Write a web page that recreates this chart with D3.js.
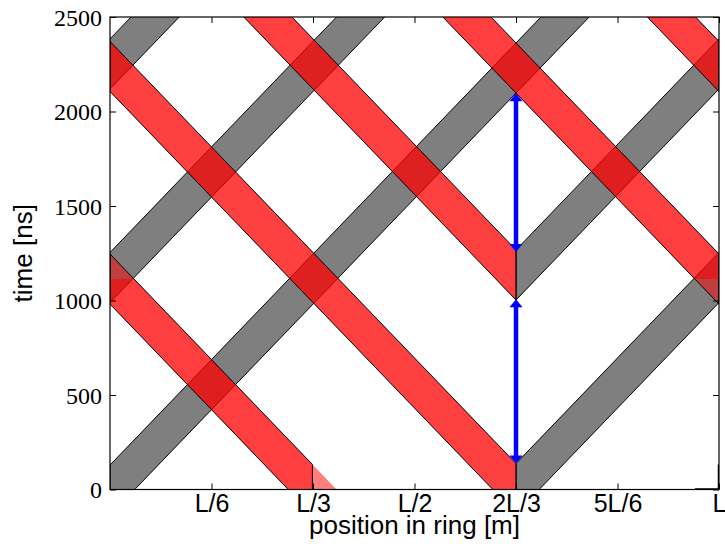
<!DOCTYPE html>
<html>
<head>
<meta charset="utf-8">
<script src="https://cdn.jsdelivr.net/npm/d3@7/dist/d3.min.js"></script>
<style>
body { margin: 0; background: #fff; }
</style>
</head>
<body>
<svg id="chart" width="725" height="546"></svg>
<script>
// one lap of the ring takes this many ns
var nsPerRing = 3350;
var pulseLength = 265;               // ns, thickness of a band measured along time
var kickerPos = 2 / 3;               // pulses leave the kicker at 2L/3
var kickTimes = [-1120, 5, 1135];    // ns, centre of each pulse at the kicker (first one is already running at t=0)
var laps = 3;

var xTicks = [1 / 6, 1 / 3, 1 / 2, 2 / 3, 5 / 6, 1];
var xTickLabels = ["L/6", "L/3", "L/2", "2L/3", "5L/6", "L"];
var yTicks = [0, 500, 1000, 1500, 2000, 2500];
var arrowSpans = [[138, 1007], [1256, 2097]];   // ns, blue arrows at 2L/3

var margin = {left: 110, top: 17, right: 6, bottom: 56.5};
var W = 725 - margin.left - margin.right;
var H = 546 - margin.top - margin.bottom;

var x = d3.scaleLinear().domain([0, 1]).range([0, W]);
var y = d3.scaleLinear().domain([0, 2500]).range([H, 0]);

var svg = d3.select("#chart");
var g = svg.append("g").attr("transform", "translate(" + margin.left + "," + margin.top + ")");

g.append("clipPath").attr("id", "plot-clip")
    .append("rect").attr("width", W).attr("height", H);

var plot = g.append("g").attr("clip-path", "url(#plot-clip)");

var half = pulseLength / 2;
var hw = half / nsPerRing;           // half width of a band along x (in L)

// centre time of a pulse at unwrapped position u
var centre = function (dir, t0, u) {
    return t0 + dir * (u - kickerPos) * nsPerRing;
};
// centre position of a pulse at time t
var centrePos = function (dir, t0, t) {
    return kickerPos + dir * (t - t0) / nsPerRing;
};

// lap segment between unwrapped positions ua and ub (vertical ends)
var segment = function (dir, t0, ua, ub, shift) {
    var ta = centre(dir, t0, ua), tb = centre(dir, t0, ub);
    return [
        [ua + shift, ta - half],
        [ub + shift, tb - half],
        [ub + shift, tb + half],
        [ua + shift, ta + half]
    ];
};
// piece of a band between two times (horizontal ends)
var slice = function (dir, t0, ta, tb, shift) {
    var ua = centrePos(dir, t0, ta), ub = centrePos(dir, t0, tb);
    return [
        [ua - hw + shift, ta],
        [ua + hw + shift, ta],
        [ub + hw + shift, tb],
        [ub - hw + shift, tb]
    ];
};

var toPath = function (pts) {
    return "M" + pts.map(function (p) { return x(p[0]) + "," + y(p[1]); }).join("L") + "Z";
};

var grays = [], reds = [], redHalves = [], redSlices = [];
kickTimes.forEach(function (t0, i) {
    var n, m;
    // grey: 2L/3 -> L, then full laps
    if (i > 0) grays.push(segment(1, t0, kickerPos, 1, 0));
    for (n = 1; n <= laps; n++) grays.push(segment(1, t0, n, n + 1, -n));

    if (i > 0) {
        // red: 2L/3 -> 0, then full laps
        reds.push(segment(-1, t0, kickerPos, 0, 0));
        for (m = 0; m < laps; m++) reds.push(segment(-1, t0, -m, -m - 1, m + 1));
    } else {
        // pulse already on its way at t=0: drawn as two half-transparent layers
        var u0 = centrePos(-1, t0, 0);
        redHalves.push(segment(-1, t0, u0, 0, 0));
        for (m = 0; m < laps; m++) redHalves.push(segment(-1, t0, -m, -m - 1, m + 1));
        var tWrap = centre(-1, t0, 0);
        redSlices.push(slice(-1, t0, 0, tWrap, 0));
        for (m = 1; m <= laps; m++) {
            redSlices.push(slice(-1, t0, tWrap + (m - 1) * nsPerRing, tWrap + m * nsPerRing, m));
        }
    }
});

plot.selectAll("path.gray").data(grays).enter().append("path")
    .attr("class", "gray")
    .attr("d", toPath)
    .attr("fill", "#000").attr("fill-opacity", 0.5)
    .attr("stroke", "#000").attr("stroke-width", 1);

plot.selectAll("path.red-slice").data(redSlices).enter().append("path")
    .attr("class", "red-slice")
    .attr("d", toPath)
    .attr("fill", "#ff0000").attr("fill-opacity", 0.5)
    .attr("stroke", "none");

plot.selectAll("path.red-half").data(redHalves).enter().append("path")
    .attr("class", "red-half")
    .attr("d", toPath)
    .attr("fill", "#ff0000").attr("fill-opacity", 0.5)
    .attr("stroke", "#000").attr("stroke-width", 1);

plot.selectAll("path.red").data(reds).enter().append("path")
    .attr("class", "red")
    .attr("d", toPath)
    .attr("fill", "#ff0000").attr("fill-opacity", 0.75)
    .attr("stroke", "#000").attr("stroke-width", 1);

// the grey pulse that is just wrapping at t = 0 leaves a bare outline at L
plot.append("path")
    .attr("d", "M" + x(1 - hw) + "," + y(0) + "L" + x(1) + "," + y(0) + "L" + x(1) + "," + y(half))
    .attr("fill", "none").attr("stroke", "#000").attr("stroke-width", 2.5);

// blue double arrows at the kicker
var arrowHead = function (xp, yp, dir) {
    return "M" + xp + "," + yp + "L" + (xp - 6.5) + "," + (yp + dir * 8) + "L" + (xp + 6.5) + "," + (yp + dir * 8) + "Z";
};
arrowSpans.forEach(function (s) {
    var xa = x(kickerPos), y0 = y(s[0]), y1 = y(s[1]);
    g.append("line").attr("x1", xa).attr("x2", xa)
        .attr("y1", y0 - 6).attr("y2", y1 + 6)
        .attr("stroke", "#0000ff").attr("stroke-width", 4.5);
    g.append("path").attr("d", arrowHead(xa, y0, -1)).attr("fill", "#0000ff");
    g.append("path").attr("d", arrowHead(xa, y1, 1)).attr("fill", "#0000ff");
});

// axes, ticks pointing inward on all four sides
var axB = d3.axisBottom(x).tickValues(xTicks).tickSizeInner(-6).tickSizeOuter(0)
    .tickFormat(function (d, i) { return xTickLabels[i]; });
var axT = d3.axisTop(x).tickValues(xTicks).tickSizeInner(-6).tickSizeOuter(0).tickFormat("");
var axL = d3.axisLeft(y).tickValues(yTicks).tickSizeInner(-6).tickSizeOuter(0).tickFormat(d3.format("d"));
var axR = d3.axisRight(y).tickValues(yTicks).tickSizeInner(-6).tickSizeOuter(0).tickFormat("");

var gb = g.append("g").attr("transform", "translate(0," + H + ")").call(axB);
g.append("g").call(axT);
var gl = g.append("g").call(axL);
g.append("g").attr("transform", "translate(" + W + ",0)").call(axR);
g.selectAll(".domain").remove();
g.selectAll(".tick line").attr("stroke", "#000").attr("stroke-width", 1);

gb.selectAll("text")
    .attr("y", 22.5).attr("dy", null)
    .attr("font-family", "'Liberation Sans', Arial, sans-serif")
    .attr("font-size", 25).attr("fill", "#000");
gl.selectAll("text")
    .attr("x", -8).attr("dy", "0.34em")
    .attr("font-family", "'Liberation Serif', 'Times New Roman', serif")
    .attr("font-size", 24).attr("fill", "#000");

g.append("rect").attr("width", W).attr("height", H)
    .attr("fill", "none").attr("stroke", "#000").attr("stroke-width", 1.2);

svg.append("text")
    .attr("x", margin.left + W / 2).attr("y", 533.5)
    .attr("text-anchor", "middle")
    .attr("font-family", "'Liberation Sans', Arial, sans-serif")
    .attr("font-size", 26)
    .text("position in ring [m]");

svg.append("text")
    .attr("transform", "translate(32," + (margin.top + H / 2) + ") rotate(-90)")
    .attr("text-anchor", "middle")
    .attr("font-family", "'Liberation Sans', Arial, sans-serif")
    .attr("font-size", 26)
    .text("time [ns]");
</script>
</body>
</html>
